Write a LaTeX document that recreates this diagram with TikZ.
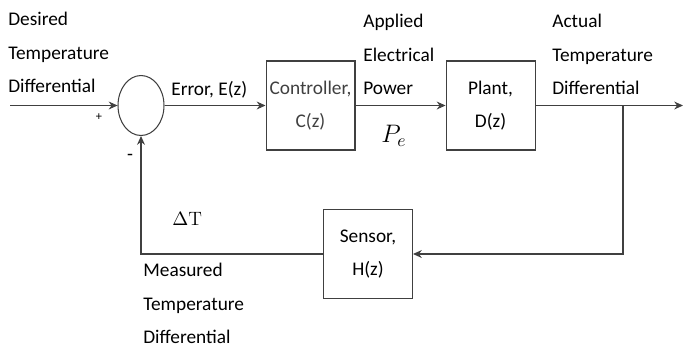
\documentclass[tikz,border=0pt]{standalone}
\usepackage{fontspec}
\setmainfont{Carlito}
\usetikzlibrary{arrows.meta,positioning,shapes.geometric}

\begin{document}
\begin{tikzpicture}[x=0.02cm, y=-0.02cm, >={Stealth[length=5pt,width=4.5pt]}, font=\fontsize{11}{19}\selectfont,
    box/.style={draw=black!75, line width=0.6pt, minimum width=1.78cm, minimum height=1.78cm, align=center, inner sep=0pt},
    lbl/.style={align=left, anchor=north west, inner sep=0pt},
    wire/.style={draw=black!75, line width=0.6pt}]
\useasboundingbox (0,0) rectangle (683,352);
\node[ellipse, draw=black!75, line width=0.6pt, minimum width=0.92cm, minimum height=1.2cm, inner sep=0pt] (sum) at (141,105.5) {};
\node[box, text=black!75, right=2.02cm of sum] (ctrl) {Controller,\\C(z)};
\node[box, right=1.8cm of ctrl] (plant) {Plant,\\D(z)};
\node[box] (sensor) at (368,254) {Sensor,\\H(z)};
\coordinate (in) at (10,105.5);
\coordinate (out) at (683,105.5);
\coordinate (br) at (623,105.5);
\draw[wire, ->] (in) -- (sum);
\draw[wire, ->] (sum) -- (ctrl);
\draw[wire, ->] (ctrl) -- (plant);
\draw[wire, ->] (plant) -- (out);
\draw[wire, ->] (br) |- (sensor);
\draw[wire, ->] (sensor) -| (sum);
% labels
\node[lbl] (des) at (8,12) {Desired\\Temperature\\Differential};
\node[anchor=base west, inner sep=0pt] (err) at (171,95) {Error, E(z)};
\node[lbl] (app) at (363,14) {Applied\\Electrical\\Power};
\node[lbl] (act) at (552,14) {Actual\\Temperature\\Differential};
\node[lbl] (meas) at (143,263) {Measured\\Temperature\\Differential};
\node (pe) at (394,136) {\fontsize{14}{16}\selectfont$P_e$};
\node[anchor=base west, inner sep=0pt] (dt) at (172,225) {\fontsize{11}{13}\selectfont$\Delta$\fontfamily{lmr}\selectfont T};
\node (plus) at (99,117) {\fontsize{7}{8}\selectfont +};
\node (minus) at (130,157) {-};
\end{tikzpicture}
\end{document}
